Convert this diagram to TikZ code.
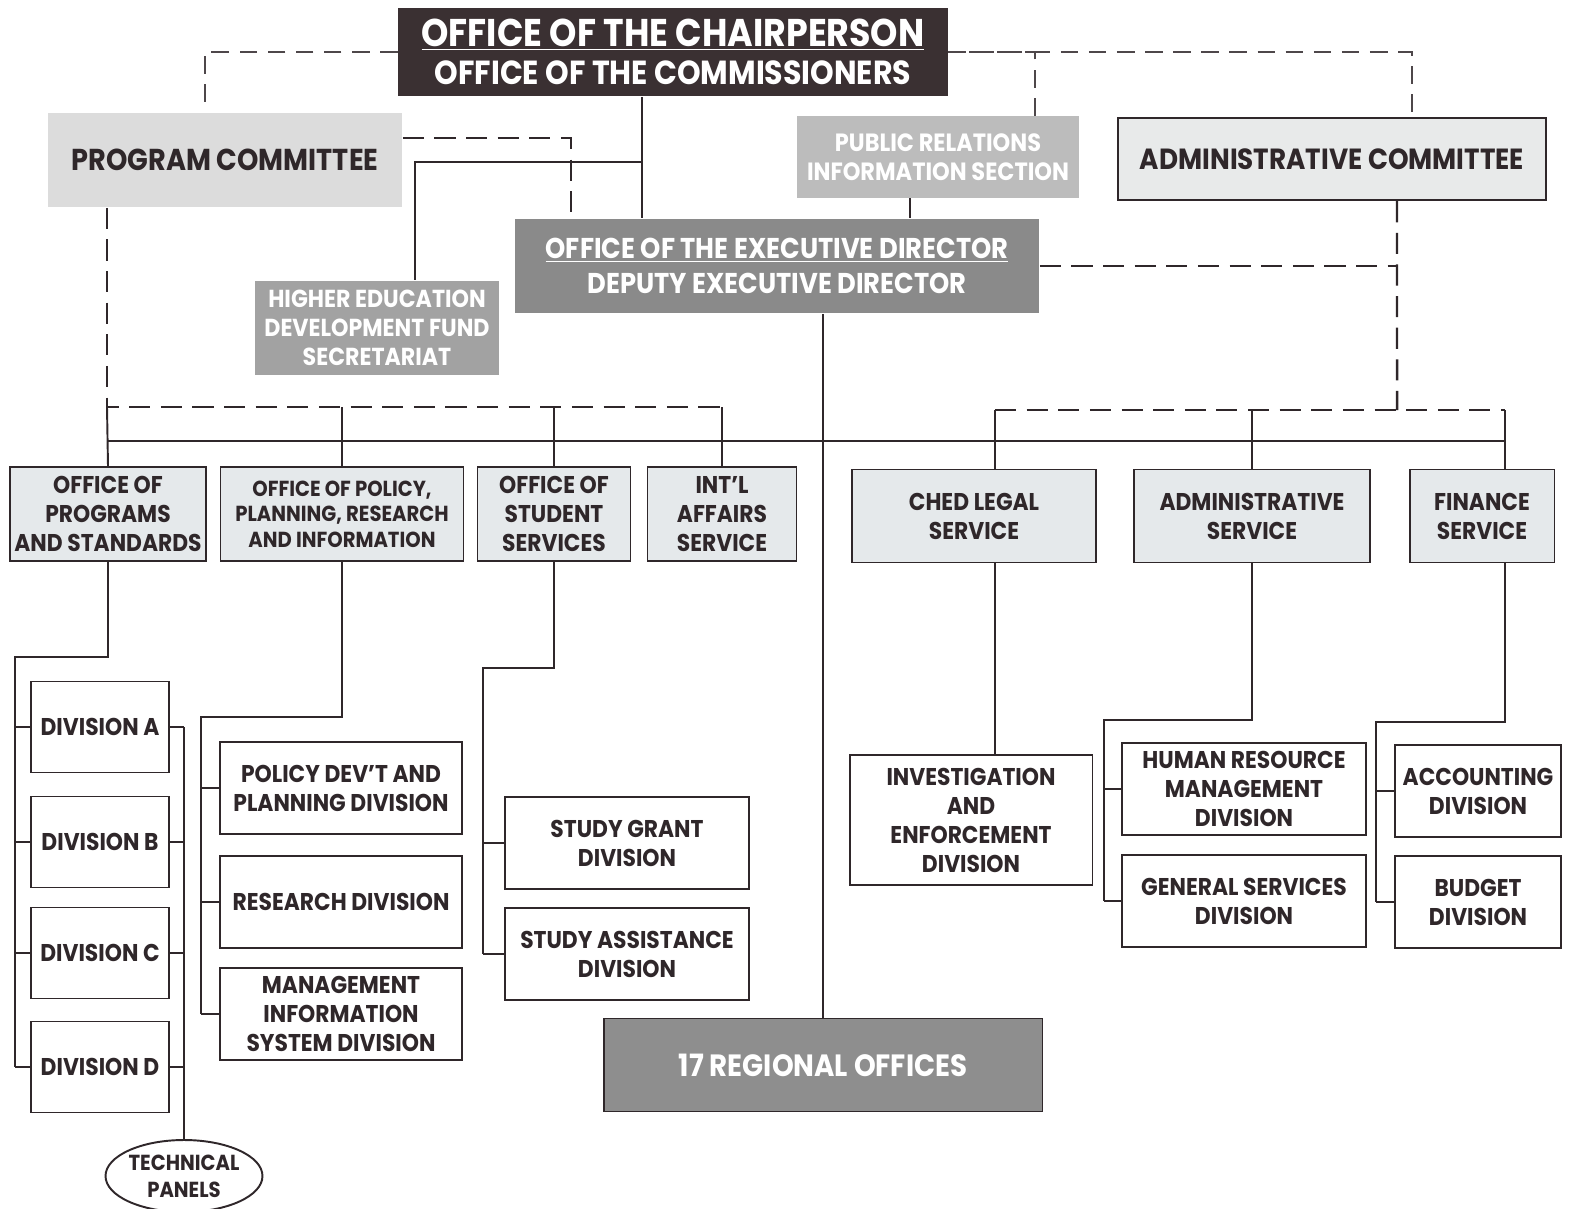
\documentclass[tikz,border=0pt]{standalone}
\usepackage{fontspec}
\setmainfont{Poppins}[FakeStretch=0.9]
\usepackage{xcolor}
\usepackage{tikz}
\usetikzlibrary{shapes,positioning,calc}
\definecolor{inkc}{HTML}{2F272A}
\definecolor{chairfill}{HTML}{3A3032}
\definecolor{progfill}{HTML}{DCDCDC}
\definecolor{prfill}{HTML}{BCBCBC}
\definecolor{admfill}{HTML}{E8EAEA}
\definecolor{execfill}{HTML}{8A8A8A}
\definecolor{hedffill}{HTML}{A2A2A2}
\definecolor{svcfill}{HTML}{E5E9EB}
\definecolor{regfill}{HTML}{8E8E8E}
\tikzstyle{conn} = [line width=1.1pt, draw=inkc]
\tikzstyle{thickdash} = [line width=1.4pt, draw=inkc, dash pattern=on 12pt off 6pt]
\tikzstyle{thindash} = [line width=0.6pt, draw=inkc!85, dash pattern=on 10pt off 6pt]
\tikzstyle{unit} = [rectangle, draw=inkc, line width=1.1pt, text=inkc, align=center, inner sep=0pt, font=\fontsize{13.8}{16.5}\selectfont\bfseries]
\tikzstyle{svc} = [unit, fill=svcfill, minimum height=1.88cm]
\tikzstyle{sub} = [unit, fill=white, minimum height=1.84cm]
\tikzstyle{head} = [rectangle, align=center, inner sep=0pt, text=white]

\begin{document}
\begin{tikzpicture}[x=0.02cm, y=-0.02cm]
    \useasboundingbox (0,0) rectangle (1574,1209);
    % top level
    \node[head, fill=chairfill, minimum width=11cm, minimum height=1.78cm, font=\fontsize{22}{24}\selectfont\bfseries] (chair) at (673,52)
        {\underline{OFFICE OF THE CHAIRPERSON}\\[-2pt]{\fontsize{19}{22}\selectfont OFFICE OF THE COMMISSIONERS}};
    \node[head, fill=progfill, text=inkc, minimum width=7.1cm, minimum height=1.9cm, font=\fontsize{17.2}{20}\selectfont\bfseries] (progcom) at (225,160) {PROGRAM COMMITTEE};
    \node[head, fill=prfill, minimum width=5.64cm, minimum height=1.64cm, font=\fontsize{14.2}{16.5}\selectfont\bfseries] (pubrel) at (938,157) {PUBLIC RELATIONS\\INFORMATION SECTION};
    \node[unit, fill=admfill, line width=1.4pt, minimum width=8.56cm, minimum height=1.64cm, font=\fontsize{16.6}{20}\selectfont\bfseries] (admcom) at (1332,159) {ADMINISTRATIVE COMMITTEE};
    \node[head, fill=execfill, minimum width=10.5cm, minimum height=1.9cm, font=\fontsize{16.3}{20}\selectfont\bfseries] (exec) at (777,266)
        {\underline{OFFICE OF THE EXECUTIVE DIRECTOR}\\DEPUTY EXECUTIVE DIRECTOR};
    \node[head, fill=hedffill, minimum width=4.9cm, minimum height=1.9cm, font=\fontsize{14}{16.5}\selectfont\bfseries] (hedf) at (377,328)
        {HIGHER EDUCATION\\DEVELOPMENT FUND\\SECRETARIAT};
    % services
    \node[svc, minimum width=3.92cm] (ops) at (108,514) {OFFICE OF\\PROGRAMS\\AND STANDARDS};
    \node[svc, minimum width=4.86cm, font=\fontsize{12.4}{14.5}\selectfont\bfseries] (opri) at (342,514) {OFFICE OF POLICY,\\PLANNING, RESEARCH\\AND INFORMATION};
    \node[svc, minimum width=3.06cm] (oss) at (554,514) {OFFICE OF\\STUDENT\\SERVICES};
    \node[svc, minimum width=2.98cm] (ias) at (722,514) {INT'L\\AFFAIRS\\SERVICE};
    \node[svc, minimum width=4.88cm, minimum height=1.86cm] (legal) at (974,516) {CHED LEGAL\\SERVICE};
    \node[svc, minimum width=4.72cm, minimum height=1.86cm] (admsvc) at (1252,516) {ADMINISTRATIVE\\SERVICE};
    \node[svc, minimum width=2.9cm, minimum height=1.86cm] (finsvc) at (1482,516) {FINANCE\\SERVICE};
    % divisions
    \foreach \l/\y in {A/727,B/842,C/953,D/1067}
        \node[sub, minimum width=2.76cm, minimum height=1.82cm] (div\l) at (100,\y) {DIVISION \l};
    \node[ellipse, draw=inkc, line width=1.1pt, fill=white, text=inkc, align=center, inner sep=0pt, minimum width=3.14cm, minimum height=1.44cm, font=\fontsize{12.4}{15.5}\selectfont\bfseries] (tp) at (184,1176) {TECHNICAL\\PANELS};
    \node[sub, minimum width=4.84cm] (policy) at (341,788) {POLICY DEV'T AND\\PLANNING DIVISION};
    \node[sub, minimum width=4.84cm] (research) at (341,902) {RESEARCH DIVISION};
    \node[sub, minimum width=4.84cm] (mis) at (341,1014) {MANAGEMENT\\INFORMATION\\SYSTEM DIVISION};
    \node[sub, minimum width=4.88cm] (sgrant) at (627,843) {STUDY GRANT\\DIVISION};
    \node[sub, minimum width=4.88cm] (sassist) at (627,954) {STUDY ASSISTANCE\\DIVISION};
    \node[sub, minimum width=4.86cm, minimum height=2.6cm] (invest) at (971,820) {INVESTIGATION\\AND\\ENFORCEMENT\\DIVISION};
    \node[sub, minimum width=4.88cm] (hrm) at (1244,789) {HUMAN RESOURCE\\MANAGEMENT\\DIVISION};
    \node[sub, minimum width=4.88cm] (gsd) at (1244,901) {GENERAL SERVICES\\DIVISION};
    \node[sub, minimum width=3.32cm] (acct) at (1478,791) {ACCOUNTING\\DIVISION};
    \node[sub, minimum width=3.32cm] (budget) at (1478,902) {BUDGET\\DIVISION};
    \node[head, fill=regfill, draw=inkc, line width=1.1pt, minimum width=8.78cm, minimum height=1.86cm, font=\fontsize{17.5}{20}\selectfont\bfseries] (reg) at (823,1065) {17 REGIONAL OFFICES};

    % chair to exec and hedf
    \coordinate (jc) at (642,162);
    \draw[conn] (chair.south -| jc) -- (exec.north -| jc);
    \draw[conn] (jc) -| ([xshift=0.76cm]hedf.north);
    % dashed links of the chair
    \draw[thindash] (chair.west) -| ([xshift=-0.4cm]progcom.north);
    \draw[thindash] (chair.east) -| ([xshift=1.6cm]admcom.north);
    \draw[thindash] ([xshift=1.94cm]pubrel.north) |- (chair.east);
    \draw[conn] ([xshift=-0.56cm]pubrel.south) -- ([xshift=-0.56cm]pubrel.south |- exec.north);
    % committees
    \coordinate (ja) at (1397,410);
    \draw[thickdash] ([yshift=0.44cm]progcom.east) -| ([xshift=-4.12cm]exec.north);
    \draw[thickdash] ([xshift=1.3cm]admcom.south) -- (ja);
    \draw[thickdash] (exec.east) -- (exec.east -| ja);
    % right services
    \coordinate (jl) at (995,410);
    \coordinate (jf) at (1505,410);
    \draw[thickdash] (jl) -- (jf);
    \draw[conn] (jl) -- (jl |- legal.north);
    \draw[conn] (admsvc.north |- ja) -- (admsvc.north);
    \draw[conn] (jf) -- (jf |- finsvc.north);
    % left services
    \coordinate (jp) at (107,407);
    \draw[thickdash] (progcom.south -| jp) -- (jp) -- (jp -| ias.north);
    \foreach \n in {opri,oss,ias}
        \draw[conn] (\n.north |- jp) -- (\n.north);
    \draw[conn] (jp) -- (ops.north);
    % bus and regional offices
    \coordinate (bus) at (0,441);
    \draw[conn] (ops.north |- bus) -- (jf |- bus);
    \draw[conn] (exec.south -| reg.north) -- (reg.north);

    % programs and standards
    \coordinate (ka) at (15,657);
    \draw[conn] (ops.south) |- (ka) -- (ka |- divD.west);
    \foreach \l in {A,B,C,D} {
        \draw[conn] (ka |- div\l.west) -- (div\l.west);
        \draw[conn] (div\l.east) -- (div\l.east -| tp.north);
    }
    \draw[conn] (tp.north |- divA.east) -- (tp.north);
    % policy, planning, research
    \coordinate (kb) at (201,717);
    \draw[conn] (opri.south) |- (kb) -- (kb |- mis.west);
    \foreach \n in {policy,research,mis}
        \draw[conn] (kb |- \n.west) -- (\n.west);
    % student services
    \coordinate (kc) at (483,668);
    \draw[conn] (oss.south) |- (kc) -- (kc |- sassist.west);
    \foreach \n in {sgrant,sassist}
        \draw[conn] (kc |- \n.west) -- (\n.west);
    % legal
    \draw[conn] (jl |- legal.south) -- (jl |- invest.north);
    % administrative service
    \coordinate (kd) at (1104,720);
    \draw[conn] (admsvc.south) |- (kd) -- (kd |- gsd.west);
    \foreach \n in {hrm,gsd}
        \draw[conn] (kd |- \n.west) -- (\n.west);
    % finance
    \coordinate (ke) at (1376,722);
    \draw[conn] (jf |- finsvc.south) |- (ke) -- (ke |- budget.west);
    \foreach \n in {acct,budget}
        \draw[conn] (ke |- \n.west) -- (\n.west);
\end{tikzpicture}
\end{document}
